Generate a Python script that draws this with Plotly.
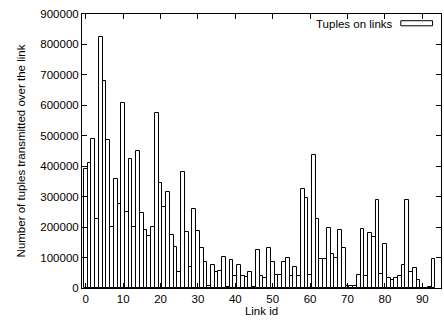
import plotly.graph_objects as go

# ---- data ----
link_ids = list(range(94))
tuples = [
    390000, 410000, 489000, 228000, 823000, 680000, 485000, 201000, 358000, 275000,
    607000, 251000, 424000, 201000, 450000, 248000, 190000, 172000, 201000, 576000,
    344000, 267000, 314000, 173000, 135000, 53000, 380000, 184000, 69000, 258000,
    187000, 133000, 84000, 8000, 77000, 53000, 57000, 102000, 4000, 93000,
    40000, 77000, 40000, 37000, 53000, 4000, 124000, 40000, 33000, 130000,
    84000, 42000, 42000, 84000, 99000, 40000, 69000, 40000, 324000, 294000,
    43000, 437000, 228000, 94000, 94000, 197000, 113000, 100000, 191000, 130000,
    8000, 5000, 5000, 43000, 194000, 40000, 181000, 168000, 288000, 46000,
    143000, 34000, 27000, 33000, 40000, 75000, 288000, 53000, 67000, 27000,
    0, 0, 3000, 94000,
]
series_name = "Tuples on links"
x_tick_vals = [0, 10, 20, 30, 40, 50, 60, 70, 80, 90]
y_tick_vals = [0, 100000, 200000, 300000, 400000, 500000, 600000, 700000, 800000, 900000]
y_tick_labels = ["0", "100000", "200000", "300000", "400000", "500000",
                 "600000", "700000", "800000", "900000"]
x_title = "Link id"
y_title = "Number of tuples transmitted over the link"

FONT = "Liberation Sans, Arial, Helvetica, sans-serif"

fig = go.Figure()
fig.add_trace(go.Bar(
    x=link_ids, y=tuples, width=1, name=series_name,
    marker=dict(color="white", line=dict(color="black", width=1)),
    showlegend=False,
))

axis_common = dict(
    showline=True, linecolor="black", linewidth=1, mirror="ticks",
    ticks="inside", ticklen=5, tickcolor="black", tickwidth=1,
    showgrid=False, zeroline=False,
    tickfont=dict(family=FONT, size=11.5, color="black"),
)

fig.update_layout(
    width=444, height=323,
    margin=dict(l=82, r=3, t=14, b=35),
    paper_bgcolor="white", plot_bgcolor="white",
    font=dict(family=FONT, size=11.5, color="black"),
    bargap=0,
    xaxis=dict(range=[-1, 95], tickvals=x_tick_vals,
               title=dict(text=x_title, font=dict(family=FONT, size=11.5), standoff=3),
               **axis_common),
    yaxis=dict(range=[0, 900000], tickvals=y_tick_vals, ticktext=y_tick_labels,
               title=dict(text=y_title, font=dict(family=FONT, size=11.5), standoff=12),
               **axis_common),
    annotations=[dict(
        text=series_name, xref="paper", yref="paper", x=0.872, y=0.9645,
        xanchor="right", yanchor="middle", showarrow=False,
        font=dict(family=FONT, size=11.5, color="black"),
    )],
    shapes=[dict(
        type="rect", xref="paper", yref="paper",
        x0=0.888, x1=0.9765, y0=0.957, y1=0.9755,
        line=dict(color="black", width=1), fillcolor="white",
    )],
)

fig.write_html(
    "out.html",
    config={"displayModeBar": False},
    post_script="document.body.style.margin='0';document.body.style.overflow='hidden';",
)
